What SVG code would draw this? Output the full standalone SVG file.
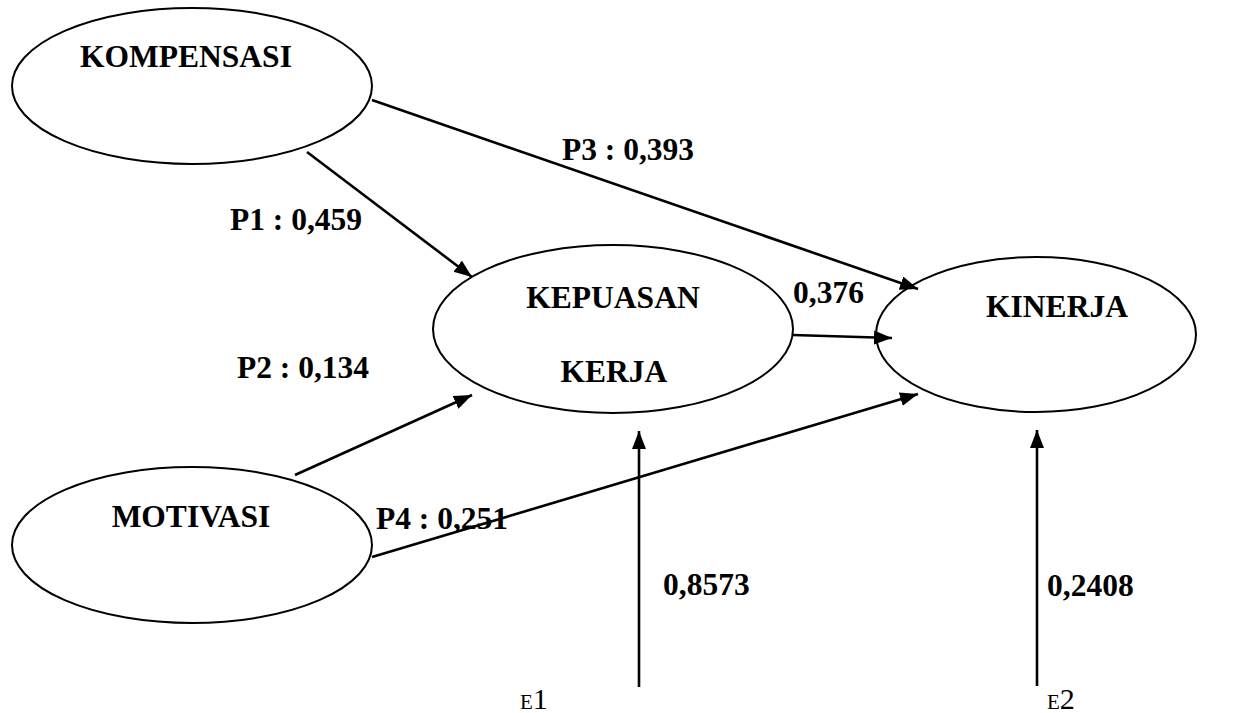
<svg xmlns="http://www.w3.org/2000/svg" width="1240" height="713" viewBox="0 0 1240 713">
  <style>
    .node { fill: #ffffff; stroke: #000000; stroke-width: 2; }
    .lbl { font-family: "Liberation Serif", "Times New Roman", serif; font-weight: bold; font-size: 31.5px; fill: #000000; }
    .edge { stroke: #000000; stroke-width: 2.6; fill: none; marker-end: url(#arrow); }
    .eps { font-family: "Liberation Serif", "Times New Roman", serif; fill: #000000; }
  </style>
  <defs>
    <marker id="arrow" markerUnits="userSpaceOnUse" markerWidth="20" markerHeight="16" refX="18" refY="7" orient="auto">
      <path d="M0,0 L18,7 L0,14 Z" fill="#000000"/>
    </marker>
  </defs>
  <rect width="1240" height="713" fill="#ffffff"/>

  <g id="node-kompensasi">
    <ellipse class="node" cx="192" cy="86" rx="180" ry="78"/>
    <text class="lbl" x="186" y="67" text-anchor="middle">KOMPENSASI</text>
  </g>
  <g id="node-motivasi">
    <ellipse class="node" cx="192" cy="545" rx="180" ry="78"/>
    <text class="lbl" x="191" y="527" text-anchor="middle">MOTIVASI</text>
  </g>
  <g id="node-kepuasan">
    <ellipse class="node" cx="613" cy="329" rx="180" ry="84"/>
    <text class="lbl" x="613" y="308" text-anchor="middle">KEPUASAN</text>
    <text class="lbl" x="614" y="382" text-anchor="middle">KERJA</text>
  </g>
  <g id="node-kinerja">
    <ellipse class="node" cx="1036" cy="334.5" rx="160" ry="77.5"/>
    <text class="lbl" x="1057" y="317" text-anchor="middle">KINERJA</text>
  </g>

  <g id="connectors">
    <line class="edge" x1="307" y1="152" x2="472" y2="277"/>
    <line class="edge" x1="372" y1="100" x2="918" y2="289"/>
    <line class="edge" x1="793" y1="335" x2="892" y2="338"/>
    <line class="edge" x1="295" y1="475" x2="472" y2="395"/>
    <line class="edge" x1="372" y1="557" x2="918" y2="394"/>
    <line class="edge" x1="639" y1="687" x2="639" y2="431"/>
    <line class="edge" x1="1037" y1="686" x2="1037" y2="430"/>
  </g>

  <g id="edge-labels">
    <text class="lbl" x="562" y="160">P3 : 0,393</text>
    <text class="lbl" x="230" y="230">P1 : 0,459</text>
    <text class="lbl" x="237" y="378">P2 : 0,134</text>
    <text class="lbl" x="793" y="303">0,376</text>
    <text class="lbl" x="376" y="529">P4 : 0,251</text>
    <text class="lbl" x="663" y="595">0,8573</text>
    <text class="lbl" x="1047" y="596">0,2408</text>
  </g>

  <g id="errors">
    <text class="eps" x="520" y="709"><tspan font-size="21px">E</tspan><tspan font-size="30px">1</tspan></text>
    <text class="eps" x="1047" y="709"><tspan font-size="21px">E</tspan><tspan font-size="30px">2</tspan></text>
  </g>
</svg>
